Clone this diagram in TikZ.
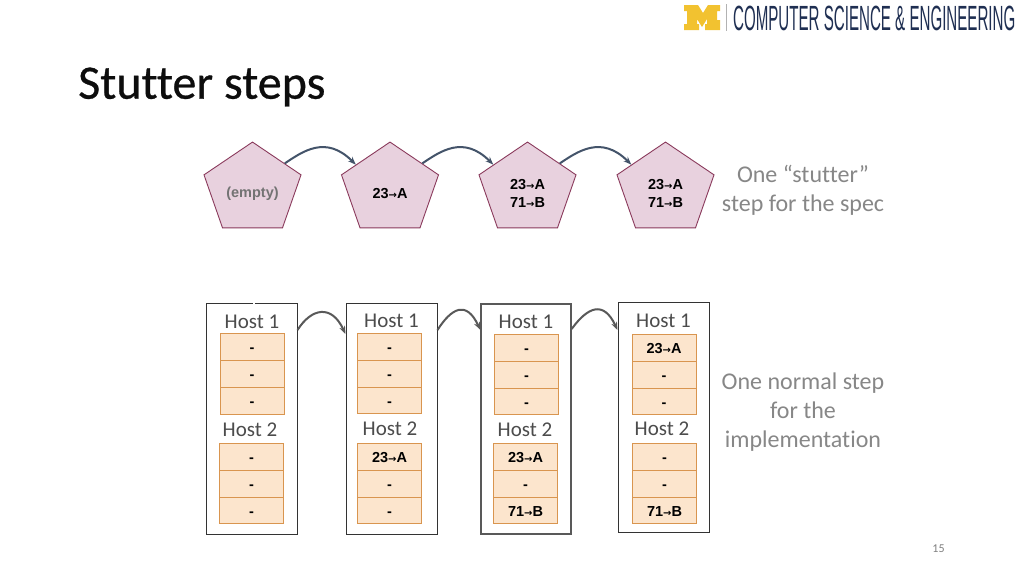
\documentclass[tikz,border=0pt]{standalone}
\usepackage{fontspec}
\setmainfont[Ligatures=NoCommon]{Carlito}
\newfontfamily\titlef[FakeBold=0.6,Ligatures=NoCommon]{Carlito}
\newfontfamily\arialf{Liberation Sans}
\newfontfamily\arrowf{DejaVu Sans}
\usetikzlibrary{shapes.geometric,arrows.meta}
\definecolor{penf}{HTML}{E8D1DE}
\definecolor{pend}{HTML}{8A3A5C}
\definecolor{celf}{HTML}{FCE5CD}
\definecolor{celd}{HTML}{D9954F}
\definecolor{arrb}{HTML}{44546A}
\definecolor{navy}{HTML}{1F2F52}
\definecolor{mich}{HTML}{F2C230}
\newcommand{\km}[2]{#1{\arrowf\bfseries\fontsize{10}{10}\selectfont →}#2}
\tikzset{
 x=1pt,y=-1pt,
 penta/.style={regular polygon,regular polygon sides=5,minimum size=102pt,inner sep=0pt,yscale=.93,fill=penf,draw=pend,line width=.9pt},
 pentatext/.style={inner sep=0pt,align=center,font=\arialf\bfseries\fontsize{14.5}{18}\selectfont},
 hostbox/.style={draw=black!80,line width=1pt,fill=white,inner sep=0pt},
 cell/.style={rectangle,draw=celd,fill=celf,line width=1pt,minimum width=64pt,minimum height=26.6pt,inner sep=0pt,text height=11pt,text depth=0pt,font=\arialf\bfseries\fontsize{14.5}{17}\selectfont},
 hostlab/.style={font=\fontsize{21}{24}\selectfont,text=black!70,inner sep=0pt},
 note/.style={font=\fontsize{24}{29}\selectfont,text=black!47,align=center,inner sep=0pt},
 specarrow/.style={draw=arrb,line width=2pt,-{Stealth[length=8pt,width=6pt]}},
 implarrow/.style={draw=black!65,line width=2pt,-{Stealth[length=8pt,width=6pt]}},
}
\begin{document}
\begin{tikzpicture}
\useasboundingbox (0,0) rectangle (1024,576);
\fill[white] (0,0) rectangle (1024,576);
% title
\node[anchor=west,inner sep=0pt,font=\titlef\fontsize{48}{56}\selectfont,text=black!95] (title) at (78,87) {Stutter steps};
% logo
\fill[mich] (684,5) -- (698,5) -- (703,13) -- (708,5) -- (720,5) -- (720,11) -- (717,11) -- (717,20) -- (720,20) -- (720,30) -- (705,30) -- (705,24) -- (707,24) -- (707,19) -- (702,27) -- (697,19) -- (697,24) -- (699,24) -- (699,30) -- (684,30) -- (684,24) -- (687,24) -- (687,11) -- (684,11) -- cycle;
\draw[black!30,line width=.8pt] (726,4) -- (726,31);
\node[anchor=west,inner sep=0pt,text=navy,font=\arialf\fontsize{35}{36}\selectfont,xscale=.432] (logo) at (733,18) {COMPUTER SCIENCE \& ENGINEERING};
% pentagons
\node[penta] (p1) at (252.5,189.5) {};
\node[penta] (p2) at (390,189.5) {};
\node[penta] (p3) at (527.5,189.5) {};
\node[penta] (p4) at (665.5,189.5) {};
\node[pentatext,text=black!55] (t1) at ([yshift=-4pt]p1.center) {(empty)};
\node[pentatext] (t2) at ([yshift=-4pt]p2.center) {\km{23}{A}};
\node[pentatext] (t3) at ([yshift=-4pt]p3.center) {\km{23}{A}\\\km{71}{B}};
\node[pentatext] (t4) at ([yshift=-4pt]p4.center) {\km{23}{A}\\\km{71}{B}};
\draw[specarrow] (p1.41) .. controls +(18,-12) and +(-30,-30) .. (p2.142);
\draw[specarrow] (p2.41) .. controls +(18,-12) and +(-30,-30) .. (p3.142);
\draw[specarrow] (p3.41) .. controls +(18,-12) and +(-30,-30) .. (p4.142);
% host boxes
\node[hostbox,minimum width=91pt,minimum height=231pt] (b1) at (251.5,418.5) {};
\node[hostbox,minimum width=91pt,minimum height=231pt] (b2) at (391.5,418.5) {};
\node[hostbox,draw=black!65,line width=1.3pt,minimum width=90pt,minimum height=230pt] (b3) at (526,419) {};
\node[hostbox,minimum width=91pt,minimum height=230pt] (b4) at (663.5,417) {};
\coordinate (gapa) at (253,303);
\coordinate (gapb) at (255,303);
\draw[white,line width=1.6pt] (gapa) -- (gapb);
\draw[implarrow] (b1.east |- 0,330) coordinate (s1) .. controls +(14,-22) and +(-14,-30) .. (b2.west |- 0,334) coordinate (e1);
\draw[implarrow] (b2.east |- 0,330) coordinate (s2) .. controls +(14,-22) and +(-14,-30) .. (b3.west |- 0,330) coordinate (e2);
\draw[implarrow] (b3.east |- 0,329) coordinate (s3) .. controls +(16,-22) and +(-14,-30) .. (b4.west |- 0,330) coordinate (e3);
% host labels
\node[hostlab] (h11) at (252,322) {Host 1};
\node[hostlab] (h21) at (250,430) {Host 2};
\node[hostlab] (h12) at (391.5,321) {Host 1};
\node[hostlab] (h22) at (390,429) {Host 2};
\node[hostlab] (h13) at (526,322) {Host 1};
\node[hostlab] (h23) at (525,430) {Host 2};
\node[hostlab] (h14) at (663.5,321) {Host 1};
\node[hostlab] (h24) at (662,429) {Host 2};
% cells column 1
\node[cell] (c1a) at (252,347) {-};
\node[cell] (c1b) at (252,374) {-};
\node[cell] (c1c) at (252,401) {-};
\node[cell] (c1d) at (251.5,457) {-};
\node[cell] (c1e) at (251.5,484) {-};
\node[cell] (c1f) at (251.5,510.5) {-};
% column 2
\node[cell] (c2a) at (389.5,347) {-};
\node[cell] (c2b) at (389.5,374) {-};
\node[cell] (c2c) at (389.5,400.5) {-};
\node[cell] (c2d) at (389.5,457) {\km{23}{A}};
\node[cell] (c2e) at (389.5,484) {-};
\node[cell] (c2f) at (389.5,510.5) {-};
% column 3
\node[cell] (c3a) at (526.5,348) {-};
\node[cell] (c3b) at (526.5,375) {-};
\node[cell] (c3c) at (526.5,401.5) {-};
\node[cell] (c3d) at (525.5,457) {\km{23}{A}};
\node[cell] (c3e) at (525.5,484) {-};
\node[cell] (c3f) at (525.5,510.5) {\km{71}{B}};
% column 4
\node[cell] (c4a) at (664,348) {\km{23}{A}};
\node[cell] (c4b) at (664,375) {-};
\node[cell] (c4c) at (664,401.5) {-};
\node[cell] (c4d) at (664.5,457) {-};
\node[cell] (c4e) at (664.5,484) {-};
\node[cell] (c4f) at (664.5,510.5) {\km{71}{B}};
% notes
\node[note] (n1) at (803,190) {One “stutter”\\step for the spec};
\node[note] (n2) at (803,412) {One normal step\\for the\\implementation};
\node[inner sep=0pt,font=\fontsize{12}{14}\selectfont,text=black!50] (pg) at (938.5,549) {15};
\end{tikzpicture}
\end{document}
